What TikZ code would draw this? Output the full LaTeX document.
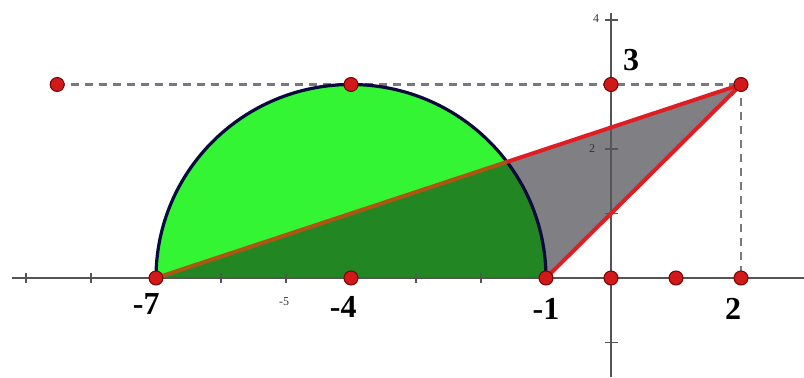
\documentclass[tikz,border=0pt]{standalone}
\usepackage{fontspec}
\setmainfont{Liberation Serif}
\definecolor{lightgr}{RGB}{51,245,51}
\definecolor{darkgr}{RGB}{34,135,34}
\definecolor{grayreg}{RGB}{128,128,132}
\definecolor{navy}{RGB}{10,10,60}
\definecolor{redline}{RGB}{222,30,36}
\definecolor{brownline}{RGB}{175,85,20}
\definecolor{ptfill}{RGB}{210,25,25}
\definecolor{ptdraw}{RGB}{120,0,0}
\definecolor{axisgray}{RGB}{85,85,85}
\definecolor{dashgray}{RGB}{120,120,130}
\begin{document}
\begin{tikzpicture}[x=65pt,y=64.5pt,
  pt/.style={circle,fill=ptfill,draw=ptdraw,line width=1pt,minimum size=14pt,inner sep=0pt},
  axisline/.style={draw=axisgray,line width=2.6pt},
  tickline/.style={draw=axisgray,line width=1.2pt},
  guide/.style={draw=dashgray,line width=2.4pt,dash pattern=on 8pt off 6pt},
  seg/.style={draw=redline,line width=4pt},
  biglab/.style={font=\fontsize{32}{32}\selectfont\bfseries,inner sep=0pt},
  smalllab/.style={font=\fontsize{12}{12}\selectfont,inner sep=0pt,text=black!80}]
\useasboundingbox (-9.4,-1.5349) rectangle (2.9692,4.3101);
% key points
\coordinate (A) at (-7,0);
\coordinate (C) at (-4,0);
\coordinate (D) at (-1,0);
\coordinate (O) at (0,0);
\coordinate (E) at (1,0);
\coordinate (F) at (2,0);
\coordinate (T) at (2,3);
\coordinate (H) at (-4,3);
\coordinate (Y) at (0,3);
\coordinate (L) at (-8.52,3);
\coordinate (P) at (-1.6,1.8);
\coordinate (XL) at (-9.215,0);
\coordinate (XR) at (2.9692,0);
\coordinate (YT) at (0,4.109);
\coordinate (YB) at (0,-1.5349);
% regions
\fill[lightgr] (P) arc[start angle=36.87,end angle=180,radius=3] -- (A) -- cycle;
\fill[darkgr] (A) -- (P) arc[start angle=36.87,end angle=0,radius=3] -- cycle;
\fill[grayreg] (P) -- (T) -- (D) arc[start angle=0,end angle=36.87,radius=3] -- cycle;
% axes
\draw[axisline] (XL) -- (XR);
\draw[axisline] (YB) -- (YT);
\foreach \t in {-9,-8,-6,-5,-3,-2} \draw[tickline] (\t,-0.07) -- (\t,0.07);
\foreach \t in {4,2,1,-1} \draw[tickline] (-0.1,\t) -- (0.1,\t);
% guides
\draw[guide] (L) -- (T);
\draw[guide] (T) -- (F);
% semicircle
\draw[navy,line width=3.2pt] (A) arc[start angle=180,end angle=0,radius=3];
% segments
\draw[draw=brownline,line width=4pt] (A) -- (P);
\draw[seg] (P) -- (T);
\draw[seg] (D) -- (T);
% points
\foreach \p in {A,C,D,O,E,F,T,H,Y,L} \node[pt] (pt\p) at (\p) {};
% labels
\node[biglab] (lA) at (-7.15,-0.40) {-7};
\node[biglab] (lC) at (-4.12,-0.45) {-4};
\node[biglab] (lD) at (-1.0,-0.48) {-1};
\node[biglab] (lF) at (1.877,-0.48) {2};
\node[biglab] (lY) at (0.308,3.38) {3};
\node[smalllab] (l5) at (-5.03,-0.37) {-5};
\node[smalllab] (l4) at (-0.23,4.03) {4};
\node[smalllab] (l2) at (-0.29,2.0) {2};
\end{tikzpicture}
\end{document}
